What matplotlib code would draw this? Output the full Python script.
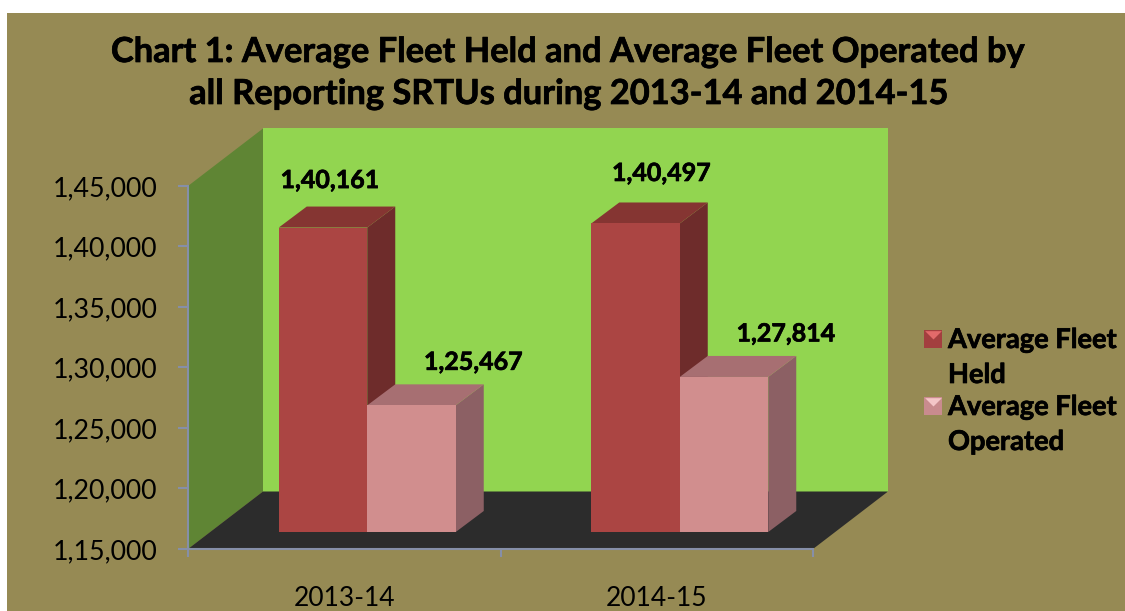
#!/usr/bin/python

import matplotlib
matplotlib.use('Agg')
import matplotlib.pyplot as plt
import matplotlib.patheffects as pe
from matplotlib.lines import Line2D
from matplotlib.patches import Polygon, Rectangle

plt.rcParams['font.family'] = ['Lato', 'DejaVu Sans']

# Values
years = ['2013-14', '2014-15']
fleet_held = [140161, 140497]
fleet_operated = [125467, 127814]
held_labels = ['1,40,161', '1,40,497']
operated_labels = ['1,25,467', '1,27,814']
y_ticks = [115000, 120000, 125000, 130000, 135000, 140000, 145000]
y_tick_labels = ['1,15,000', '1,20,000', '1,25,000', '1,30,000', '1,35,000', '1,40,000', '1,45,000']

# Colours
OLIVE = '#968A54'
WALL_BACK = '#92D550'
WALL_LEFT = '#5F8534'
FLOOR = '#2C2C2C'
AXIS = '#868FA8'
RED = ('#AB4543', '#853532', '#6E2C2B')
PINK = ('#D18E8E', '#A76F72', '#8C6064')

W, H = 1125, 611
fig = plt.figure(figsize=(W / 100, H / 100), dpi=100, facecolor='white')
fig.add_artist(Rectangle((7 / W, 0), 1 - 7 / W, 1 - 13 / H, transform=fig.transFigure,
                         facecolor=OLIVE, edgecolor='none', zorder=-1))

ax = fig.add_axes([188 / W, 1 - 549 / H, 625 / W, 363 / H])
ax.set_xlim(0, 2)
ax.set_ylim(115000, 145000)
ax.patch.set_visible(False)

# Pixel sizes turned into data units for the fake 3D depth
xu = 2 / 625
yu = 30000 / 363
wall_dx, wall_dy = 75 * xu, 57.5 * yu
shift_dx, shift_dy = 23 * xu, 17 * yu
bar_dx, bar_dy = 28 * xu, 21 * yu
bar_w = 88.5 * xu

# slightly heavier text, the original font is a dense bold
heavy = [pe.withStroke(linewidth=0.5, foreground='black')]


def poly(pts, color, z):
    ax.add_patch(Polygon(pts, closed=True, facecolor=color, edgecolor='none', clip_on=False, zorder=z))


# Walls and floor
y0, y1 = ax.get_ylim()
poly([(wall_dx, y0 + wall_dy), (2 + wall_dx, y0 + wall_dy), (2 + wall_dx, y1 + wall_dy), (wall_dx, y1 + wall_dy)], WALL_BACK, 1)
poly([(0, y0), (wall_dx, y0 + wall_dy), (wall_dx, y1 + wall_dy), (0, y1)], WALL_LEFT, 1)
poly([(0, y0), (2, y0), (2 + wall_dx, y0 + wall_dy), (wall_dx, y0 + wall_dy)], FLOOR, 1)


def bar3d(left, value, cols, z):
    l = left + shift_dx
    r = l + bar_w
    b = y0 + shift_dy
    t = value + shift_dy
    poly([(r, b), (r + bar_dx, b + bar_dy), (r + bar_dx, t + bar_dy), (r, t)], cols[2], z)
    poly([(l, t), (r, t), (r + bar_dx, t + bar_dy), (l + bar_dx, t + bar_dy)], cols[1], z)
    poly([(l, b), (r, b), (r, t), (l, t)], cols[0], z)


# label offsets from the bar, in pixels
held_off = [(30, 64), (49, 67)]
operated_off = [(85, 60), (85, 60)]

z = 2
for i in range(len(years)):
    c = 0.5 + i
    bar3d(c - bar_w, fleet_held[i], RED, z)
    bar3d(c, fleet_operated[i], PINK, z + 1)
    z += 2
    ax.annotate(held_labels[i], (c - bar_w / 2, fleet_held[i]), xytext=held_off[i], textcoords='offset pixels',
                ha='center', va='center', fontsize=18, fontweight='bold', color='black', zorder=10,
                annotation_clip=False, path_effects=heavy)
    ax.annotate(operated_labels[i], (c + bar_w / 2, fleet_operated[i]), xytext=operated_off[i], textcoords='offset pixels',
                ha='center', va='center', fontsize=18, fontweight='bold', color='black', zorder=10,
                annotation_clip=False, path_effects=heavy)

# Axes
for s in ['top', 'right']:
    ax.spines[s].set_visible(False)
for s in ['left', 'bottom']:
    ax.spines[s].set_color(AXIS)
    ax.spines[s].set_linewidth(1.5)
    ax.spines[s].set_zorder(5)
ax.set_yticks(y_ticks)
ax.set_yticklabels(y_tick_labels, fontsize=19.3)
ax.tick_params(axis='y', length=7, width=1.5, color=AXIS, pad=15)
ax.set_xticks([0, 1, 2])
ax.set_xticklabels([])
ax.tick_params(axis='x', length=6, width=1.5, color=AXIS)
ax.set_xticks([0.5, 1.5], minor=True)
ax.set_xticklabels(years, minor=True, fontsize=19)
ax.tick_params(axis='x', which='minor', length=0, pad=27)

# Title
fig.text(569 / W, 1 - 52 / H, 'Chart 1: Average Fleet Held and Average Fleet Operated by',
         ha='center', va='center', fontsize=24.8, fontweight='bold', color='black', path_effects=heavy)
fig.text(569 / W, 1 - 94 / H, 'all Reporting SRTUs during 2013-14 and 2014-15',
         ha='center', va='center', fontsize=24.8, fontweight='bold', color='black', path_effects=heavy)

# Legend, placed by hand since each key sits beside the first of two text lines
legend_rows = [('Average Fleet', 'Held'), ('Average Fleet', 'Operated')]
key_colors = [('#A33F3F', '#E26A6A'), ('#C98B8E', '#F4C6C8')]
key_y = [339, 406]
wedge = [(-1, 1), (1, 1), (0, 0)]

for row, cols, ky in zip(legend_rows, key_colors, key_y):
    fig.add_artist(Line2D([933 / W], [1 - ky / H], marker='s', ms=13, color=cols[0], ls='none', mew=0,
                          transform=fig.transFigure))
    fig.add_artist(Line2D([933 / W], [1 - ky / H], marker=wedge, ms=12, color=cols[1], ls='none', mew=0,
                          transform=fig.transFigure))
    fig.text(948 / W, 1 - (ky + 1) / H, row[0], ha='left', va='center', fontsize=19.6,
             fontweight='bold', color='black', path_effects=heavy)
    fig.text(948 / W, 1 - (ky + 36) / H, row[1], ha='left', va='center', fontsize=19.6,
             fontweight='bold', color='black', path_effects=heavy)

fig.savefig('out.png', dpi=100, facecolor='white')
